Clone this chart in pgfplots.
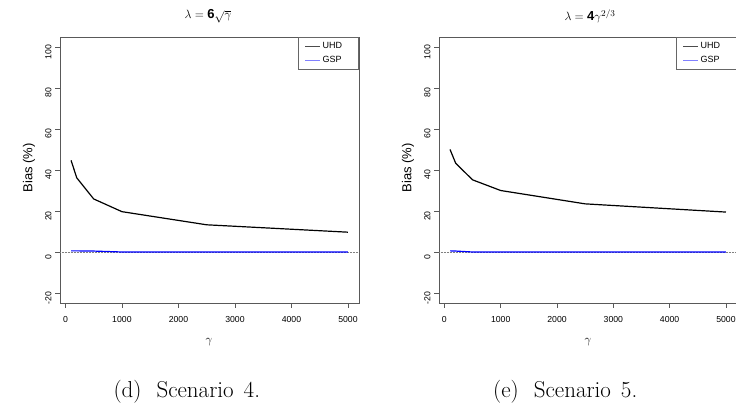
\documentclass[border=0pt]{standalone}
\usepackage{pgfplots}
\pgfplotsset{compat=1.18}
\usepackage{fontspec}
\newfontfamily\arial{Liberation Sans}
\begin{document}
\begin{tikzpicture}[x=1pt,y=1pt]
\useasboundingbox (0,0) rectangle (736,409);
\clip (0,0) rectangle (736,409);
\pgfplotsset{
  rbox/.style={
    scale only axis, width=299pt, height=266pt,
    xmin=-96, xmax=5196, ymin=-24.8, ymax=104.8,
    xtick={0,1000,...,5000}, ytick={-20,0,...,100},
    tick pos=left, tick align=outside, major tick length=5pt,
    axis line style={black!65}, tick style={black!65, line width=0.6pt},
    /pgf/number format/assume math mode=true,
    /pgf/number format/1000 sep={},
    tick label style={font=\arial\fontsize{8.7}{10}\selectfont},
    xticklabel style={yshift=-5pt},
    yticklabel style={rotate=90, anchor=south, xshift=-5pt},
    legend image code/.code={\draw[##1] (0pt,0pt) -- (15pt,0pt);},
    legend style={at={(1,1)}, anchor=north east, draw=black!60, line width=0.6pt,
      font=\arial\fontsize{9}{10}\selectfont,
      inner xsep=7pt, inner ysep=3.5pt, row sep=1.5pt},
    legend cell align=left,
    clip=true,
  }
}
% ---------- left panel ----------
\begin{axis}[rbox, at={(60pt,106pt)}, anchor=south west]
\addlegendimage{black!70, line width=0.6pt}
\addlegendentry{\makebox[27pt][l]{UHD}}
\addlegendimage{blue!50, line width=0.6pt}
\addlegendentry{\makebox[27pt][l]{GSP}}
\addplot[forget plot, black!50, densely dotted, line width=0.5pt] coordinates {(-96,0) (5196,0)};
\addplot[forget plot, black, line width=1.2pt] coordinates {
(100,44.7) (200,36.2) (500,25.9) (1000,19.7) (2500,13.3) (5000,9.7)};
\addplot[forget plot, blue, line width=1.2pt] coordinates {
(100,0.6) (200,0.6) (500,0.5) (1000,0.05) (2500,0.02) (5000,0)};
\end{axis}
% ---------- right panel ----------
\begin{axis}[rbox, width=298pt, at={(439pt,106pt)}, anchor=south west]
\addlegendimage{black!70, line width=0.6pt}
\addlegendentry{\makebox[27pt][l]{UHD}}
\addlegendimage{blue!50, line width=0.6pt}
\addlegendentry{\makebox[27pt][l]{GSP}}
\addplot[forget plot, black!50, densely dotted, line width=0.5pt] coordinates {(-96,0) (5196,0)};
\addplot[forget plot, black, line width=1.2pt] coordinates {
(100,50.0) (200,43.3) (500,35.2) (1000,30.0) (2500,23.5) (5000,19.5)};
\addplot[forget plot, blue, line width=1.2pt] coordinates {
(100,0.6) (200,0.5) (500,0.05) (1000,0.02) (2500,0) (5000,0)};
\end{axis}
% ---------- titles, axis labels, captions ----------
\node[font=\fontsize{13}{15}\selectfont] at (208,393) {$\lambda = \mbox{\arial\bfseries 6}\sqrt{\gamma}$};
\node[font=\fontsize{13}{15}\selectfont] at (590,393) {$\lambda = \mbox{\arial\bfseries 4}\gamma^{2/3}$};
\node[font=\arial\fontsize{13}{15}\selectfont, rotate=90] at (29,241) {Bias (\%)};
\node[font=\arial\fontsize{13}{15}\selectfont, rotate=90] at (408,241) {Bias (\%)};
\node[font=\fontsize{12}{14}\selectfont] at (209,67) {$\gamma$};
\node[font=\fontsize{12}{14}\selectfont] at (588,67) {$\gamma$};
\node[font=\fontsize{23}{27}\selectfont, anchor=base west, inner sep=0pt] at (113.3,11.7) {(d)\hspace{15pt}Scenario\hspace{10pt}4.};
\node[font=\fontsize{23}{27}\selectfont, anchor=base west, inner sep=0pt] at (493,11.7) {(e)\hspace{15pt}Scenario\hspace{10pt}5.};
\end{tikzpicture}
\end{document}
